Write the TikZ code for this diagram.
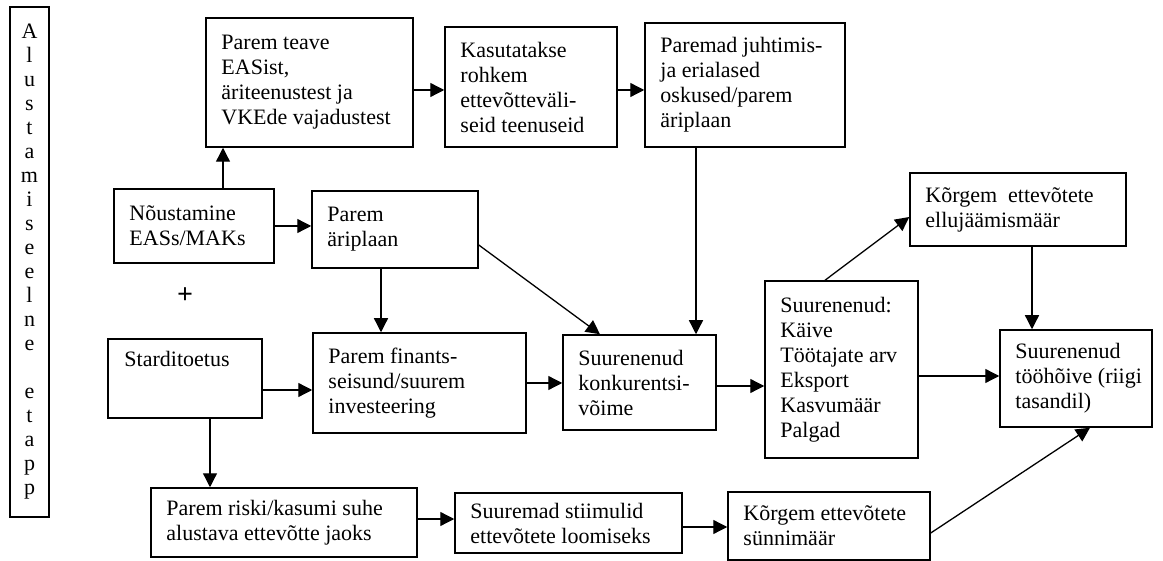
\documentclass[tikz,border=0pt]{standalone}
\usepackage{fontspec}
\setmainfont{Liberation Serif}
\usetikzlibrary{arrows.meta,fit,calc}
\tikzset{
  box/.style={draw, line width=1.5pt, inner sep=0pt},
  txt/.style={font=\fontsize{22}{25}\selectfont, align=left, inner sep=0pt},
  arr/.style={line width=1.3pt, -{Triangle[length=14pt,width=14pt]}},
}
\newcommand\tbox[6]{%
  \node[box, fit={(#2,#3) (#4,#5)}] (#1) {};
  \node[txt, anchor=west] (#1t) at ([xshift=16pt]#1.west) {#6};}
\begin{document}
\begin{tikzpicture}[x=1pt,y=-1pt]
\useasboundingbox (0,0) rectangle (1163,561);
% vertical stage box
\node[box, fit={(10,7) (49,517)}] (vert) {};
\node[font=\fontsize{22}{24}\selectfont, align=center, inner sep=0pt] (vertt) at (vert.center)
  {A\\l\\u\\s\\t\\a\\m\\i\\s\\e\\e\\l\\n\\e\\\mbox{}\\e\\t\\a\\p\\p};
% boxes
\tbox{pt}{206}{18}{413}{147}{Parem teave\\EASist,\\äriteenustest ja\\VKEde vajadustest}
\tbox{kas}{445}{27}{617}{147}{Kasutatakse\\rohkem\\ettevõtteväli-\\seid teenuseid}
\tbox{par}{645}{23}{845}{147}{Paremad juhtimis-\\ja erialased\\oskused/parem\\äriplaan}
\tbox{nou}{114}{189}{274}{263}{Nõustamine\\EASs/MAKs}
\tbox{ap}{312}{191}{478}{268}{Parem\\äriplaan}
\node[font=\fontsize{28}{28}\selectfont\bfseries, inner sep=0pt] (plus) at (185,296) {+};
\node[box, fit={(108,339) (262,418)}] (start) {};
\node[txt, anchor=base west] (startt) at ([xshift=17pt,yshift=-28pt]start.north west) {Starditoetus};
\tbox{fin}{313}{333}{526}{433}{Parem finants-\\seisund/suurem\\investeering}
\tbox{konk}{563}{335}{716}{430}{Suurenenud\\konkurentsi-\\võime}
\tbox{suur}{765}{281}{918}{458}{Suurenenud:\\Käive\\Töötajate arv\\Eksport\\Kasvumäär\\Palgad}
\tbox{ell}{910}{173}{1126}{246}{Kõrgem\ \ ettevõtete\\ellujäämismäär}
\tbox{too}{1000}{330}{1152}{427}{Suurenenud\\tööhõive (riigi\\tasandil)}
\tbox{risk}{151}{488}{417}{557}{Parem riski/kasumi suhe\\alustava ettevõtte jaoks}
\tbox{stim}{455}{493}{682}{553}{Suuremad stiimulid\\ettevõtete loomiseks}
\tbox{sun}{728}{492}{930}{560}{Kõrgem ettevõtete\\sünnimäär}
% connectors
\draw[arr] (223,0 |- nou.north) -- (223,0 |- pt.south);
\draw[arr] (pt.east |- 0,90) -- (kas.west |- 0,90);
\draw[arr] (kas.east |- 0,90) -- (par.west |- 0,90);
\draw[arr] (nou.east |- 0,226) -- (ap.west |- 0,226);
\draw[arr] (381,0 |- ap.south) -- (381,0 |- fin.north);
\draw[arr] (ap.east |- 0,245) -- (600,0 |- konk.north);
\draw[arr] (696,0 |- par.south) -- (696,0 |- konk.north);
\draw[arr] (start.east |- 0,390) -- (fin.west |- 0,390);
\draw[arr] (fin.east |- 0,383) -- (konk.west |- 0,383);
\draw[arr] (konk.east |- 0,386) -- (suur.west |- 0,386);
\draw[arr] (825,0 |- suur.north) -- (ell.west |- 0,217);
\draw[arr] (1032,0 |- ell.south) -- (1032,0 |- too.north);
\draw[arr] (suur.east |- 0,376) -- (too.west |- 0,376);
\draw[arr] (210,0 |- start.south) -- (210,0 |- risk.north);
\draw[arr] (risk.east |- 0,519) -- (stim.west |- 0,519);
\draw[arr] (stim.east |- 0,527) -- (sun.west |- 0,527);
\draw[arr] (sun.east |- 0,533) -- (1090,0 |- too.south);
\end{tikzpicture}
\end{document}
